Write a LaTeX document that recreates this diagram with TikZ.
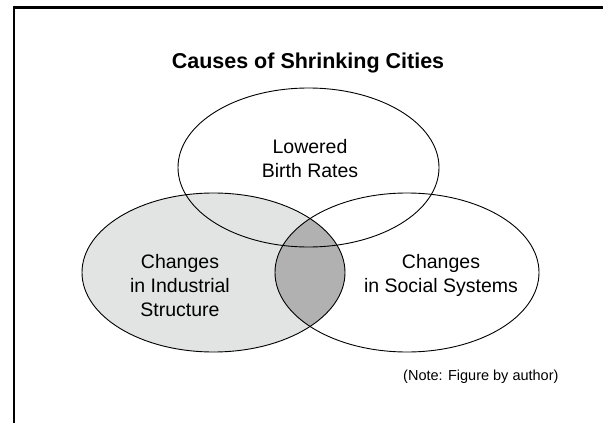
\documentclass[tikz,border=0pt]{standalone}
\usepackage{fontspec}
\setmainfont{Liberation Sans}
\usetikzlibrary{shapes.geometric}
\definecolor{setgray}{HTML}{E2E3E3}
\definecolor{lensgray}{HTML}{B1B1B1}
\begin{document}
\begin{tikzpicture}[x=1pt,y=-1pt]

      \useasboundingbox (0,0) rectangle (603,423);
      \draw[line width=2.5pt] (14,430) |- (610,7.3);

      \node[font=\bfseries\fontsize{21.5}{25}\selectfont, align=center, anchor=base] (title) at (308,68.3) {Causes of Shrinking Cities};

      % shading of the sets
      \fill[setgray] (213.5,272.5) ellipse [x radius=131.5, y radius=79.5];
      \begin{scope}
        \clip (213.5,272.5) ellipse [x radius=131.5, y radius=79.5];
        \fill[lensgray] (407,272.5) ellipse [x radius=132, y radius=79.5];
      \end{scope}

      \begin{scope}[every node/.style={ellipse, draw, line width=0.9pt, inner sep=0pt, minimum height=159pt}]
        \node[minimum width=261pt] (birth)    at (308.5,167.5) {};
        \node[minimum width=263pt] (industry) at (213.5,272.5) {};
        \node[minimum width=264pt] (social)   at (407,272.5)   {};
      \end{scope}

      \begin{scope}[every node/.style={font=\fontsize{19.5}{24}\selectfont, align=center, anchor=base}]
        \node (birthtext)    at (310,177) {Lowered\\Birth Rates};
        \node (industrytext) at (180,316) {Changes\\in Industrial\\Structure};
        \node (socialtext)   at (441,292) {Changes\\in Social Systems};
      \end{scope}

      \node[font=\fontsize{14.5}{17}\selectfont, anchor=base west, inner sep=0pt] (note) at (403,380) {(Note: Figure by author)};

    \end{tikzpicture}
\end{document}
